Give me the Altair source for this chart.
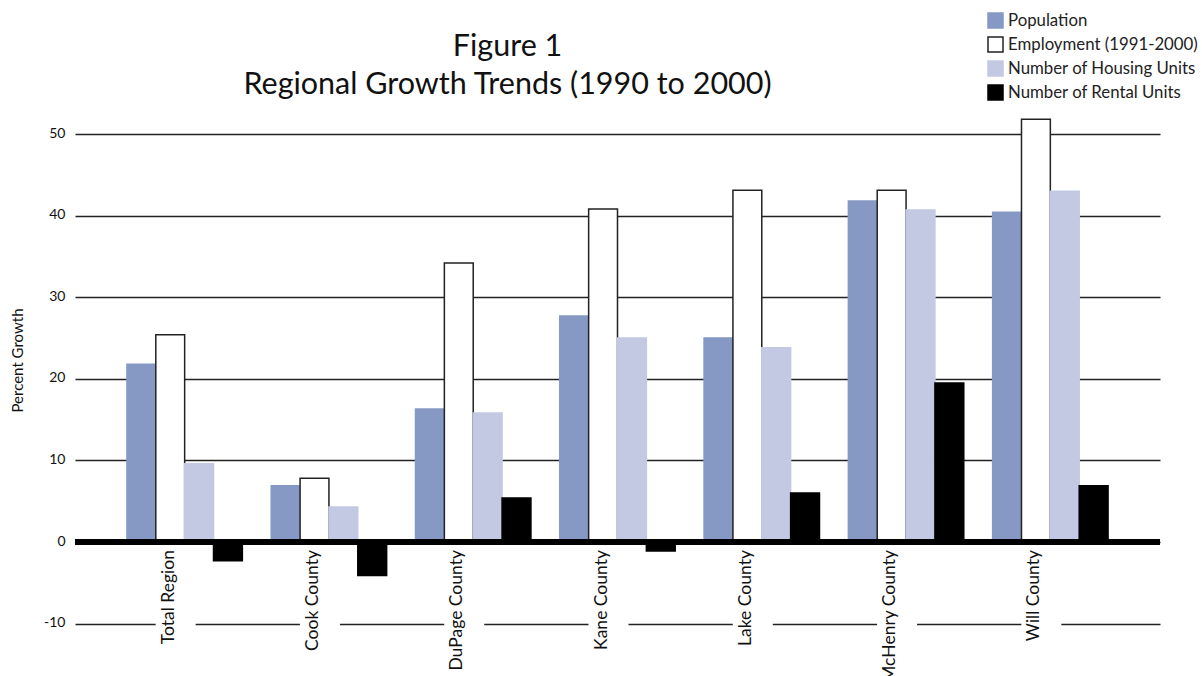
import altair as alt
import pandas as pd

# Percent growth 1990-2000 by area and measure
areas = ["Total Region", "Cook County", "DuPage County", "Kane County",
         "Lake County", "McHenry County", "Will County"]
series = ["Population", "Employment (1991-2000)", "Number of Housing Units",
          "Number of Rental Units"]
population = [21.8, 6.9, 16.3, 27.7, 25.0, 41.8, 40.4]
employment = [25.4, 7.8, 34.2, 40.8, 43.1, 43.1, 51.8]
housing = [9.6, 4.3, 15.8, 25.0, 23.8, 40.7, 43.0]
rental = [-2.3, -4.1, 5.4, -1.1, 6.0, 19.5, 6.9]
y_ticks = [-10, 0, 10, 20, 30, 40, 50]

fills = ["#8699c4", "#ffffff", "#c4c9e3", "#000000"]
strokes = ["#8699c4", "#222222", "#c4c9e3", "#000000"]
FONT = "Lato"

rows = []
for name, vals in zip(series, [population, employment, housing, rental]):
    for area, v in zip(areas, vals):
        rows.append({"area": area, "series": name, "value": v})
df = pd.DataFrame(rows)
labels = pd.DataFrame({"area": areas})

x_enc = alt.X("area:N", sort=areas, axis=None,
              scale=alt.Scale(paddingInner=0.2, paddingOuter=0.36))
y_scale = alt.Scale(domain=[-16.42, 54.17], nice=False, zero=False)

legend = alt.Legend(title=None, orient="none", legendX=912, legendY=-88,
                    symbolType="square", symbolSize=225,
                    symbolStrokeWidth=1.5, symbolOpacity=1,
                    labelFont=FONT, labelFontSize=16.8, labelLimit=400,
                    labelColor="#222", labelOffset=4,
                    rowPadding=3, padding=0)

bars = alt.Chart(df).mark_bar(strokeWidth=1.5).encode(
    x=x_enc,
    xOffset=alt.XOffset("series:N", sort=series,
                        scale=alt.Scale(paddingInner=0, paddingOuter=0)),
    y=alt.Y("value:Q", scale=y_scale,
            axis=alt.Axis(values=y_ticks, title="Percent Growth",
                          grid=True, gridColor="#222222", gridWidth=1.6,
                          ticks=False, domain=False, labelPadding=10,
                          labelFontSize=14, labelFont=FONT, labelColor="#111",
                          labelExpr="replace(datum.label, '\u2212', '-')",
                          labelBaseline="alphabetic", labelOffset=3,
                          titleFont=FONT, titleFontSize=15,
                          titleFontWeight="normal", titleColor="#111",
                          titleAngle=270, titleAlign="center",
                          titleBaseline="middle", titleX=-58, titleY=260)),
    color=alt.Color("series:N", sort=series,
                    scale=alt.Scale(domain=series, range=fills),
                    legend=legend),
    stroke=alt.Stroke("series:N", sort=series,
                      scale=alt.Scale(domain=series, range=strokes),
                      legend=legend),
)

zero_line = alt.Chart(labels).mark_rule(color="black", strokeWidth=5).encode(
    y=alt.datum(0, scale=y_scale)
)

# white breaks in the -10 gridline behind the area names
gaps = alt.Chart(labels).mark_rule(color="white", strokeWidth=40,
                                   strokeCap="butt", xOffset=-9).encode(
    x=x_enc,
    y=alt.datum(-10.35, scale=y_scale),
    y2=alt.datum(-9.65),
)

names = alt.Chart(labels).mark_text(angle=270, align="right",
                                    baseline="alphabetic", font=FONT,
                                    fontSize=17.5, color="#111",
                                    xOffset=-11, yOffset=8).encode(
    x=x_enc,
    y=alt.datum(0, scale=y_scale),
    text="area:N",
)

chart = alt.layer(bars, zero_line, gaps, names).properties(
    width=1085, height=576,
    autosize=alt.AutoSizeParams(type="none"),
    padding={"left": 75, "top": 100, "right": 42, "bottom": 0},
    title=alt.TitleParams(["Figure 1", "Regional Growth Trends (1990 to 2000)"],
                          font=FONT, fontSize=30.5, fontWeight="normal",
                          color="#111", anchor="middle", frame="group",
                          dx=-110, dy=96, lineHeight=38, offset=8),
).configure_view(stroke=None)

chart.save("out.html", embed_options={"renderer": "svg", "actions": False})
